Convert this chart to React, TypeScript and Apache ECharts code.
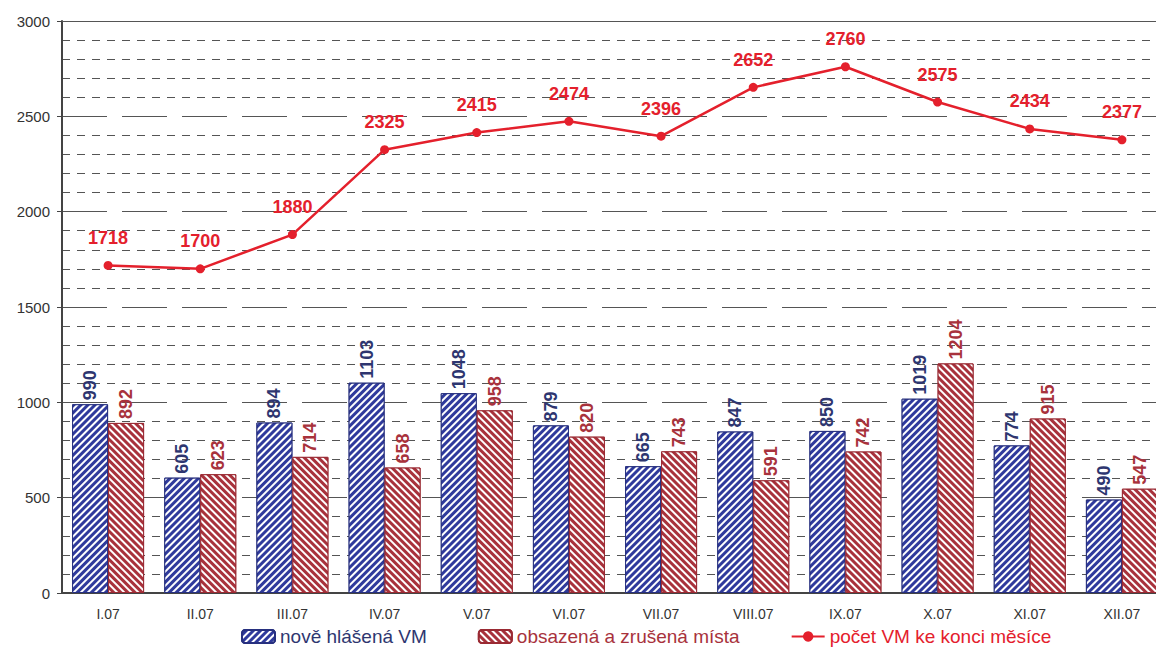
import React, { useEffect, useRef } from "react";
import * as echarts from "echarts";

const categories = ["I.07", "II.07", "III.07", "IV.07", "V.07", "VI.07", "VII.07", "VIII.07", "IX.07", "X.07", "XI.07", "XII.07"];
const noveHlasena = [990, 605, 894, 1103, 1048, 879, 665, 847, 850, 1019, 774, 490];
const obsazena = [892, 623, 714, 658, 958, 820, 743, 591, 742, 1204, 915, 547];
const pocetVM = [1718, 1700, 1880, 2325, 2415, 2474, 2396, 2652, 2760, 2575, 2434, 2377];

const BLUE = "#2f3a9c";
const BLUE_TEXT = "#2e3670";
const DRED = "#a8323c";
const RED = "#e4202c";
const FONT = "'Liberation Sans', Arial, sans-serif";

export default function App() {
  const ref = useRef<HTMLDivElement>(null);
  useEffect(() => {
    const chart = echarts.init(ref.current!, null, { renderer: "svg" });
    chart.setOption({
      animation: false,
      textStyle: { fontFamily: FONT },
      grid: { left: 62, right: 0, top: 21, bottom: 60 },
      legend: {
        bottom: 2,
        left: 236,
        itemGap: 51,
        itemWidth: 33,
        itemHeight: 13,
        textStyle: { fontSize: 19, fontFamily: FONT },
        data: [
          { name: "nově hlášená VM", textStyle: { color: BLUE_TEXT } },
          { name: "obsazená a zrušená místa", textStyle: { color: DRED } },
          { name: "počet VM ke konci měsíce", textStyle: { color: RED } },
        ],
      },
      xAxis: [
        {
          type: "category",
          data: categories,
          axisLine: { lineStyle: { color: "#444", width: 2 } },
          axisTick: { show: false },
          axisLabel: { color: "#333", fontSize: 14, margin: 14 },
        },
        {
          type: "category",
          position: "top",
          data: categories,
          axisLine: { show: true, lineStyle: { color: "#555", width: 1 } },
          axisTick: { show: false },
          axisLabel: { show: false },
        },
      ],
      yAxis: {
        type: "value",
        min: 0,
        max: 3000,
        interval: 500,
        axisLine: { show: true, lineStyle: { color: "#444", width: 2 } },
        axisTick: { show: true, length: 5, lineStyle: { color: "#444" } },
        axisLabel: { color: "#333", fontSize: 15, margin: 12, formatter: (v: number) => String(v) },
        splitLine: { lineStyle: { color: "#555", width: 1, type: [45, 15] } },
        minorTick: { show: false, splitNumber: 5 },
        minorSplitLine: { show: true, lineStyle: { color: "#555", width: 1, type: [8, 7] } },
      },
      series: [
        {
          name: "nově hlášená VM",
          type: "bar",
          data: noveHlasena,
          barWidth: 36,
          barGap: "0%",
          itemStyle: {
            color: BLUE,
            borderColor: "#27307f",
            borderWidth: 1,
            decal: {
              symbol: "rect",
              symbolSize: 1,
              dashArrayX: [1, 0],
              dashArrayY: [2, 2.5],
              rotation: -Math.PI / 4,
              color: "#ffffff",
            },
          },
          label: {
            show: true,
            position: "top",
            rotate: 90,
            align: "left",
            verticalAlign: "middle",
            distance: 4,
            color: BLUE_TEXT,
            fontWeight: "bold",
            fontSize: 18,
          },
        },
        {
          name: "obsazená a zrušená místa",
          type: "bar",
          data: obsazena,
          barWidth: 36,
          barGap: "0%",
          itemStyle: {
            color: DRED,
            borderColor: "#9a2a33",
            borderWidth: 1,
            decal: {
              symbol: "rect",
              symbolSize: 1,
              dashArrayX: [1, 0],
              dashArrayY: [2, 2.5],
              rotation: Math.PI / 4,
              color: "#ffffff",
            },
          },
          label: {
            show: true,
            position: "top",
            rotate: 90,
            align: "left",
            verticalAlign: "middle",
            distance: 4,
            color: DRED,
            fontWeight: "bold",
            fontSize: 18,
          },
        },
        {
          name: "počet VM ke konci měsíce",
          type: "line",
          data: pocetVM,
          symbol: "circle",
          symbolSize: 9,
          lineStyle: { color: RED, width: 2.5 },
          itemStyle: { color: RED },
          label: {
            show: true,
            position: "top",
            distance: 14,
            color: RED,
            fontWeight: "bold",
            fontSize: 18,
          },
          z: 5,
        },
      ],
    });
    return () => chart.dispose();
  }, []);
  return (
    <div style={{ position: "absolute", left: 0, top: 0, width: 1156, height: 653, overflow: "hidden" }}>
      <div ref={ref} style={{ width: 1168, height: 653 }} />
    </div>
  );
}
